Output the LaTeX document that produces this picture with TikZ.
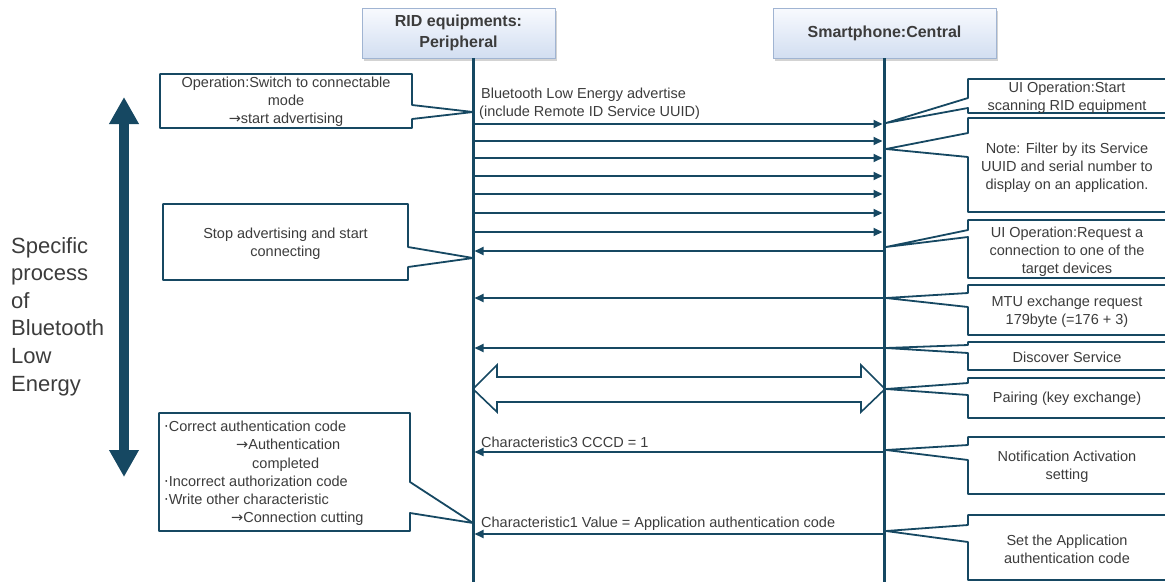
\documentclass[tikz,border=0pt]{standalone}
\usepackage{fontspec}
\setmainfont{Liberation Sans}
\newfontfamily\symfont{DejaVu Sans}
\newcommand{\rarr}{{\symfont →}}
\newcommand{\bul}{{\symfont ·}}
\usetikzlibrary{arrows.meta,shadows}
\definecolor{lineblue}{RGB}{22,72,98}
\definecolor{textgray}{RGB}{60,60,60}
\definecolor{hdrborder}{RGB}{160,180,210}
\definecolor{hdrtop}{RGB}{248,250,254}
\definecolor{hdrbottom}{RGB}{210,222,241}
\begin{document}
\begin{tikzpicture}[x=1pt,y=-1pt,
  life/.style={draw=lineblue,line width=3pt},
  msg/.style={draw=lineblue,line width=1.8pt,-{Triangle[length=9pt,width=8pt]},shorten >=1.5pt},
  callout/.style={draw=lineblue,line width=1.8pt,fill=white,line join=round},
  txt/.style={text=textgray,font=\fontsize{14.5}{18.2}\selectfont,align=center,inner sep=0pt},
  lbl/.style={text=textgray,font=\fontsize{14.5}{18}\selectfont,anchor=west,inner sep=0pt},
  hdr/.style={draw=hdrborder,line width=0.8pt,top color=hdrtop,bottom color=hdrbottom,
    text=textgray,font=\bfseries\fontsize{16}{21}\selectfont,align=center,
    minimum height=50pt,inner sep=0pt,
    drop shadow={shadow xshift=2pt,shadow yshift=-3pt,opacity=0.35}},
  side/.style={text=textgray,font=\fontsize{22}{27.6}\selectfont,align=left,inner sep=0pt,anchor=north west},
  big/.style={draw=lineblue,line width=10pt,
    {Triangle[length=27pt,width=28pt]}-{Triangle[length=27pt,width=28pt]}},
  pair/.style={draw=lineblue,line width=1.6pt,fill=white,line join=miter}
]
\useasboundingbox (0,0) rectangle (1165,582);
\clip (0,0) rectangle (1165,582);

% lifeline headers
\node[hdr,minimum width=193pt] (rid) at (458.5,33) {RID equipments:\\Peripheral};
\node[hdr,minimum width=223pt] (phone) at (884.5,33) {Smartphone:Central};

% lifeline end points
\coordinate (Ltop) at (473,58);
\coordinate (Lbot) at (473,582);
\coordinate (Rtop) at (884,58);
\coordinate (Rbot) at (884,582);

% callouts on the peripheral side
\coordinate (tipA) at (473,112);
\draw[callout] (160,74) -- (412,74) -- (412,105) -- (tipA) -- (412,119) -- (412,128) -- (160,128) -- cycle;
\node[txt] (opA) at (286,102) {Operation:Switch to connectable\\mode\\\rarr start advertising};

\coordinate (tipB) at (473,258);
\draw[callout] (163,204) -- (408,204) -- (408,247) -- (tipB) -- (408,267) -- (408,280) -- (163,280) -- cycle;
\node[txt] (opB) at (285.5,244) {Stop advertising and start\\connecting};

\coordinate (tipC) at (473,523);
\draw[callout] (159,413) -- (410,413) -- (410,482) -- (tipC) -- (410,513) -- (410,531) -- (159,531) -- cycle;
\node[txt,align=left,anchor=west] (opC) at (164,473.5)
  {\bul Correct authentication code\\
   \hspace*{72pt}\rarr Authentication\\
   \hspace*{88pt}completed\\
   \bul Incorrect authorization code\\
   \bul Write other characteristic\\
   \hspace*{67pt}\rarr Connection cutting};

% callouts on the central side
\coordinate (tip1) at (886,123);
\draw[callout] (968,79) -- (1175,79) -- (1175,113) -- (968,113) -- (968,108) -- (tip1) -- (968,98) -- cycle;
\node[txt] (ui1) at (1067,97.5) {UI Operation:Start\\scanning RID equipment};

\coordinate (tip2) at (886,149);
\draw[callout] (968,118) -- (1175,118) -- (1175,212) -- (968,212) -- (968,157) -- (tip2) -- (968,133) -- cycle;
\node[txt] (note) at (1067,168) {Note: Filter by its Service\\UUID and serial number to\\display on an application.};

\coordinate (tip3) at (886,247);
\draw[callout] (968,220) -- (1175,220) -- (1175,278) -- (968,278) -- (968,237) -- (tip3) -- (968,230) -- cycle;
\node[txt] (ui2) at (1067,252) {UI Operation:Request a\\connection to one of the\\target devices};

\coordinate (tip4) at (886,298);
\draw[callout] (968,285) -- (1175,285) -- (1175,335) -- (968,335) -- (968,307) -- (tip4) -- (968,293) -- cycle;
\node[txt] (mtu) at (1067,311.5) {MTU exchange request\\179byte (=176 + 3)};

\coordinate (tip5) at (886,348);
\draw[callout] (968,342) -- (1175,342) -- (1175,370) -- (968,370) -- (968,353) -- (tip5) -- (968,345) -- cycle;
\node[txt] (disc) at (1067,357) {Discover Service};

\coordinate (tip6) at (886,389);
\draw[callout] (968,378) -- (1175,378) -- (1175,418) -- (968,418) -- (968,395) -- (tip6) -- (968,383) -- cycle;
\node[txt] (pairtxt) at (1067,399) {Pairing (key exchange)};

\coordinate (tip7) at (886,450);
\draw[callout] (968,437) -- (1175,437) -- (1175,494) -- (968,494) -- (968,460) -- (tip7) -- (968,445) -- cycle;
\node[txt] (notif) at (1067,467) {Notification Activation\\setting};

\coordinate (tip8) at (886,531);
\draw[callout] (968,515) -- (1175,515) -- (1175,580) -- (968,580) -- (968,542) -- (tip8) -- (968,525) -- cycle;
\node[txt] (setcode) at (1067,549) {Set the Application\\authentication code};

% pairing: hollow double block arrow between the lifelines
\coordinate (pairL) at (473,389);
\coordinate (pairR) at (885,389);
\draw[pair] (pairL) -- (497,365) -- (497,377) -- (861,377) -- (861,365) -- (pairR)
  -- (861,412) -- (861,402) -- (497,402) -- (497,412) -- cycle;

% advertising packets
\foreach \y [count=\i] in {124,141,158,176,194,213,232}{
  \coordinate (adL\i) at (473,\y);
  \coordinate (adR\i) at (884,\y);
  \draw[msg] (adL\i) -- (adR\i);
}

% requests from the central
\coordinate (conR) at (884,251);  \coordinate (conL) at (473,251);
\coordinate (mtuR) at (884,298);  \coordinate (mtuL) at (473,298);
\coordinate (dsR) at (884,348);   \coordinate (dsL) at (473,348);
\coordinate (c3R) at (884,452);   \coordinate (c3L) at (473,452);
\coordinate (c1R) at (884,534);   \coordinate (c1L) at (473,534);
\draw[msg] (conR) -- (conL);
\draw[msg] (mtuR) -- (mtuL);
\draw[msg] (dsR) -- (dsL);
\draw[msg] (c3R) -- (c3L);
\draw[msg] (c1R) -- (c1L);

% lifelines
\draw[life] (Ltop) -- (Lbot);
\draw[life] (Rtop) -- (Rbot);

% message labels
\node[lbl] (advA) at (481,95) {Bluetooth Low Energy advertise};
\node[lbl] (advB) at (479,113) {(include Remote ID Service UUID)};
\node[lbl] (ch3) at (481,442) {Characteristic3 CCCD = 1};
\node[lbl] (ch1) at (481,524) {Characteristic1 Value = Application authentication code};

% BLE span marker
\coordinate (spanTop) at (124,97);
\coordinate (spanBot) at (124,477);
\draw[big] (spanTop) -- (spanBot);
\node[side] (span) at (11,237) {Specific\\process\\of\\Bluetooth\\Low\\Energy};
\end{tikzpicture}
\end{document}
